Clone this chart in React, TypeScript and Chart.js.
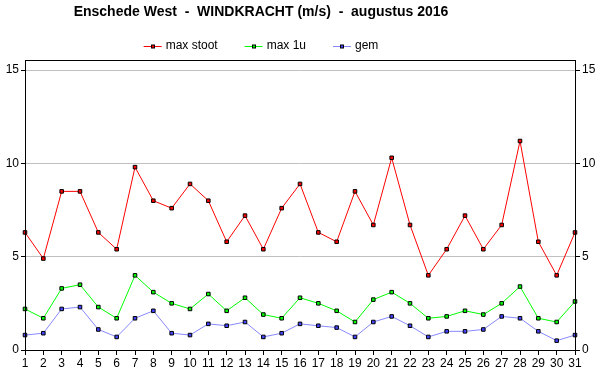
import React, { useEffect, useRef } from 'react';
import { Chart, registerables } from 'chart.js';

Chart.register(...registerables);

const titleText = 'Enschede West  -  WINDKRACHT (m/s)  -  augustus 2016';
const days = ['1','2','3','4','5','6','7','8','9','10','11','12','13','14','15','16','17','18','19','20','21','22','23','24','25','26','27','28','29','30','31'];
const maxStoot = [6.3,4.9,8.5,8.5,6.3,5.4,9.8,8.0,7.6,8.9,8.0,5.8,7.2,5.4,7.6,8.9,6.3,5.8,8.5,6.7,10.3,6.7,4.0,5.4,7.2,5.4,6.7,11.2,5.8,4.0,6.3];
const max1u = [2.2,1.7,3.3,3.5,2.3,1.7,4.0,3.1,2.5,2.2,3.0,2.1,2.8,1.9,1.7,2.8,2.5,2.1,1.5,2.7,3.1,2.5,1.7,1.8,2.1,1.9,2.5,3.4,1.7,1.5,2.6];
const gem = [0.8,0.9,2.2,2.3,1.1,0.7,1.7,2.1,0.9,0.8,1.4,1.3,1.5,0.7,0.9,1.4,1.3,1.2,0.7,1.5,1.8,1.3,0.7,1.0,1.0,1.1,1.8,1.7,1.0,0.5,0.8];
const yTicks = [0, 5, 10, 15];
const yMin = 0;
const yMax = 15.54;

const FONT = '"Liberation Sans", Arial, sans-serif';

const overlayPlugin = {
  id: 'overlay',
  afterDraw(chart: any) {
    const { ctx, chartArea } = chart;
    ctx.save();
    // frame
    ctx.strokeStyle = '#000';
    ctx.lineWidth = 1;
    ctx.strokeRect(Math.round(chartArea.left) + 0.5, Math.round(chartArea.top) + 0.5,
      Math.round(chartArea.right - chartArea.left), Math.round(chartArea.bottom - chartArea.top));
    const cx = 261;
    // title
    ctx.fillStyle = '#000';
    ctx.font = 'bold 14px ' + FONT;
    ctx.textAlign = 'center';
    ctx.textBaseline = 'middle';
    ctx.fillText(titleText, cx, 12);
    // legend
    ctx.font = '12px ' + FONT;
    const lineW = 18, gapText = 4, gapItem = 27;
    const items = chart.data.datasets.map((d: any) => ({
      label: d.label, color: d.borderColor, fill: d.pointBackgroundColor,
      w: lineW + gapText + ctx.measureText(d.label).width,
    }));
    const total = items.reduce((s: number, it: any) => s + it.w, 0) + gapItem * (items.length - 1);
    let x = cx - total / 2;
    const y = 46;
    for (const it of items) {
      ctx.strokeStyle = it.color;
      ctx.beginPath();
      ctx.moveTo(x, y + 0.5);
      ctx.lineTo(x + lineW, y + 0.5);
      ctx.stroke();
      const mx = Math.round(x + lineW / 2);
      ctx.fillStyle = it.fill;
      ctx.strokeStyle = '#000';
      ctx.fillRect(mx - 1.5, y - 1, 3, 3);
      ctx.strokeRect(mx - 1.5, y - 1, 3, 3);
      ctx.fillStyle = '#000';
      ctx.textAlign = 'left';
      ctx.fillText(it.label, x + lineW + gapText, y);
      x += it.w + gapItem;
    }
    ctx.restore();
  },
};

export default function App() {
  const ref = useRef<HTMLCanvasElement | null>(null);
  useEffect(() => {
    if (!ref.current) return;
    const mkDs = (label: string, data: number[], line: string, fill: string) => ({
      label, data,
      borderColor: line, borderWidth: 1,
      pointStyle: 'rect', pointRadius: 2.5, pointHoverRadius: 2.5,
      pointBackgroundColor: fill, pointBorderColor: '#000', pointBorderWidth: 1,
      tension: 0, fill: false, yAxisID: 'y',
    });
    const chart = new Chart(ref.current, {
      type: 'line',
      data: {
        labels: days,
        datasets: [
          mkDs('max stoot', maxStoot, '#ff0000', '#ff0000'),
          mkDs('max 1u', max1u, '#00ff00', '#00ff00'),
          mkDs('gem', gem, '#8888ff', '#4444ff'),
        ],
      },
      options: {
        responsive: false,
        animation: false,
        events: [],
        layout: { padding: { top: 60, left: 0, right: 0, bottom: 0 } },
        plugins: { legend: { display: false }, title: { display: false }, tooltip: { enabled: false } },
        scales: {
          x: {
            type: 'category', offset: false,
            grid: { drawOnChartArea: false, tickLength: 5, tickColor: '#000' },
            border: { color: '#000' },
            ticks: { color: '#000', font: { family: FONT, size: 12 }, autoSkip: false, maxRotation: 0, padding: 1 },
            afterFit: (s: any) => { s.height = 40; },
          },
          y: {
            position: 'left', min: yMin, max: yMax,
            afterBuildTicks: (s: any) => { s.ticks = yTicks.map((v) => ({ value: v })); },
            grid: { color: '#c0c0c0', tickColor: '#000', tickLength: 4 },
            border: { color: '#000' },
            ticks: { color: '#000', font: { family: FONT, size: 12 }, padding: 2 },
            afterFit: (s: any) => { s.width = 25; },
          },
          y2: {
            position: 'right', min: yMin, max: yMax,
            afterBuildTicks: (s: any) => { s.ticks = yTicks.map((v) => ({ value: v })); },
            grid: { drawOnChartArea: false, tickColor: '#000', tickLength: 5 },
            border: { color: '#000' },
            ticks: { color: '#000', font: { family: FONT, size: 12 }, padding: 2 },
            afterFit: (s: any) => { s.width = 25; },
          },
        },
      },
      plugins: [overlayPlugin],
    } as any);
    return () => chart.destroy();
  }, []);
  return (
    <div style={{ position: 'absolute', left: 0, top: 0, width: 600, height: 390, background: '#fff' }}>
      <canvas ref={ref} width={600} height={390} />
    </div>
  );
}
